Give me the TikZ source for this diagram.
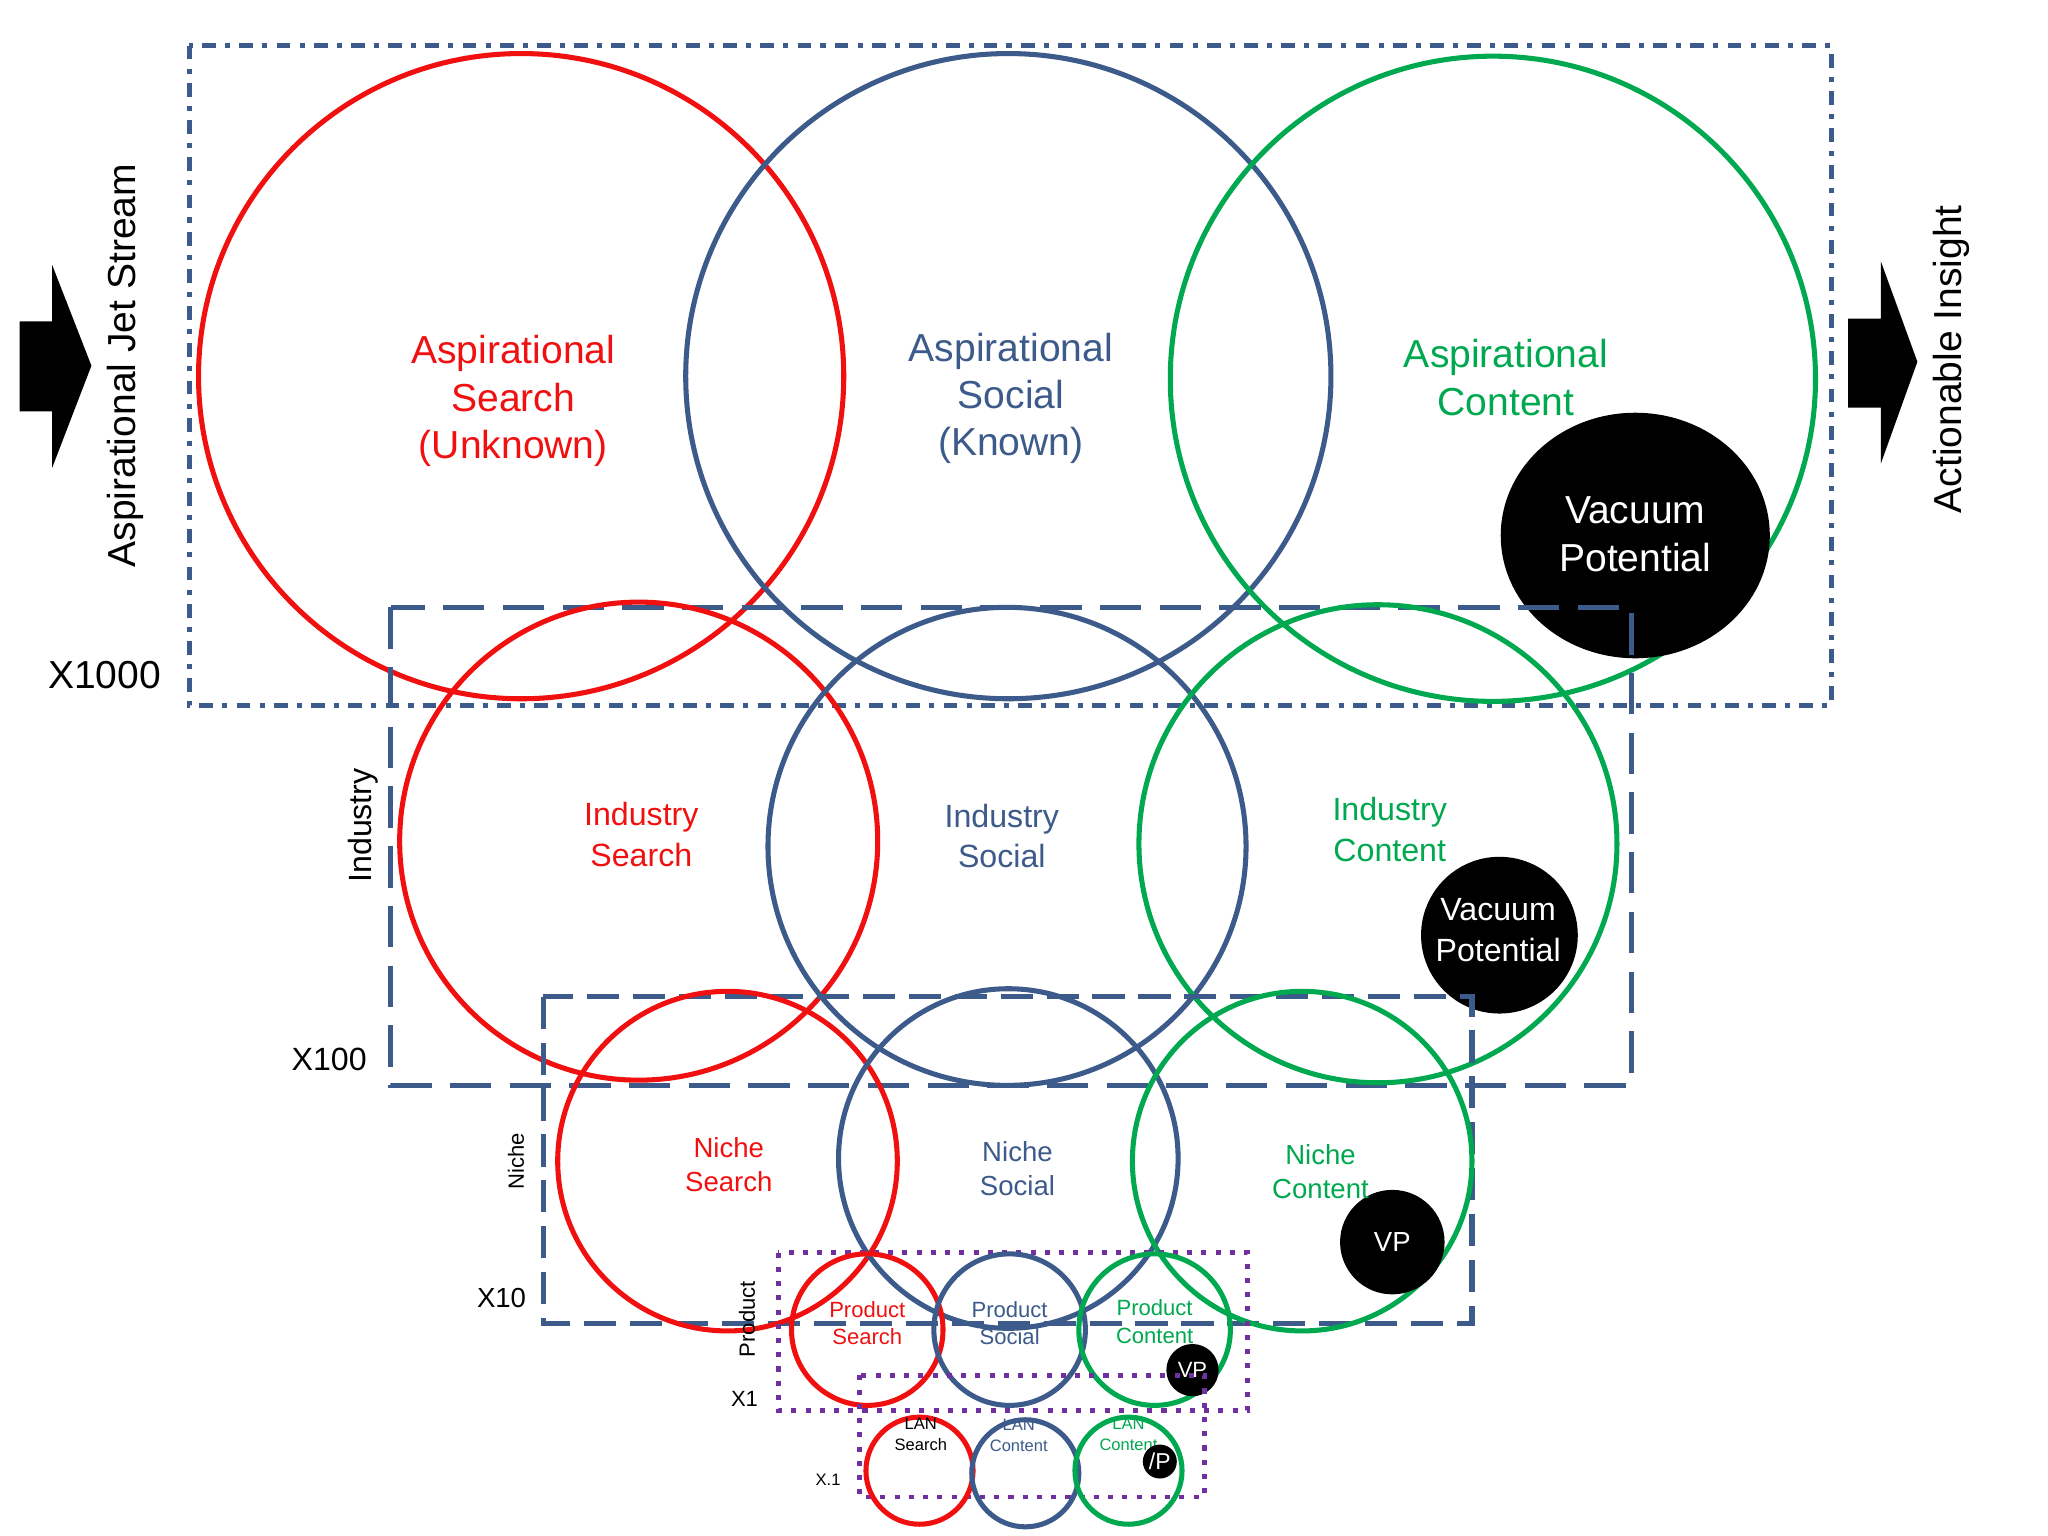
\documentclass[tikz,border=0pt]{standalone}
\usepackage{fontspec}
\setmainfont{Liberation Sans}
\definecolor{vred}{HTML}{F01010}
\definecolor{vblue}{HTML}{3C5A8A}
\definecolor{vgreen}{HTML}{00A84F}
\definecolor{vpurple}{HTML}{7030A0}
\tikzset{
  ring/.style={line width=1.1pt},
  frame/.style={vblue, line width=1.1pt},
  dotframe/.style={vpurple, line width=1.1pt, dotted},
  vac/.style={fill=black},
  asp/.style={font=\fontsize{8.5}{10.3}\selectfont, align=center},
  ind/.style={font=\fontsize{7}{8.8}\selectfont, align=center},
  nic/.style={font=\fontsize{6}{7.4}\selectfont, align=center},
  prd/.style={font=\fontsize{4.8}{6}\selectfont, align=center},
  lan/.style={font=\fontsize{3.6}{4.5}\selectfont, align=center},
}
\begin{document}
\begin{tikzpicture}[x=0.01cm,y=-0.01cm]
    \useasboundingbox[fill=white] (0,0) rectangle (1568,1176);
    % aspirational level
    \draw[frame, dash dot] (145,35) rectangle (1402,540);
    \draw[ring,vred] (399,288) circle (247);
    \draw[ring,vblue] (772,288) circle (247);
    \draw[ring,vgreen] (1143,290) circle (247);
    \fill[vac] (1252,410) ellipse (103 and 94);
    \node[asp,vred] (aspsearch) at (393,307) {Aspirational\\Search\\(Unknown)};
    \node[asp,vblue] (aspsocial) at (774,305) {Aspirational\\Social\\(Known)};
    \node[asp,vgreen] (aspcontent) at (1153,289) {Aspirational\\Content};
    \node[asp,white] (vp1) at (1252,409) {Vacuum\\Potential};
    % industry level
    \draw[frame, dashed, dash pattern=on 9pt off 4pt] (299,465) rectangle (1249,831);
    \draw[ring,vred] (489,644) circle (183);
    \draw[ring,vblue] (771,648) circle (183);
    \draw[ring,vgreen] (1055,646) circle (183);
    \fill[vac] (1148,716) circle (60);
    \node[ind,vred] (indsearch) at (491,639) {Industry\\Search};
    \node[ind,vblue] (indsocial) at (767,640) {Industry\\Social};
    \node[ind,vgreen] (indcontent) at (1064,635) {Industry\\Content};
    \node[ind,white] (vp2) at (1147,712) {Vacuum\\Potential};
    % niche level
    \draw[frame, dash pattern=on 7pt off 3pt] (416,763) rectangle (1127,1013);
    \draw[ring,vred] (557,889) circle (130);
    \draw[ring,vblue] (772,887) circle (130);
    \draw[ring,vgreen] (997,889) circle (130);
    \fill[vac] (1066,951) circle (40);
    \node[nic,vred] (nicsearch) at (558,892) {Niche\\Search};
    \node[nic,vblue] (nicsocial) at (779,895) {Niche\\Social};
    \node[nic,vgreen] (niccontent) at (1011,897) {Niche\\Content};
    \node[nic,white] (vp3) at (1066,951) {VP};
    % product level
    \draw[dotframe] (596,959) rectangle (955,1080);
    \draw[ring,vred] (664,1018) circle (58);
    \draw[ring,vblue] (773,1018) circle (58);
    \draw[ring,vgreen] (884,1018) circle (58);
    \fill[vac] (913,1049) circle (20);
    \node[prd,vred] (prdsearch) at (664,1013) {Product\\Search};
    \node[prd,vblue] (prdsocial) at (773,1013) {Product\\Social};
    \node[prd,vgreen] (prdcontent) at (884,1012) {Product\\Content};
    \node[prd,white] (vp4) at (913,1049) {VP};
    % LAN level
    \draw[dotframe, line width=1pt] (658,1053) rectangle (922,1146);
    \draw[ring,vred] (704,1126) circle (41);
    \draw[ring,vblue] (785,1128) circle (41);
    \draw[ring,vgreen] (864,1126) circle (41);
    \node[lan] (lansearch) at (705,1098) {LAN\\Search};
    \node[lan,vblue] (lansocial) at (780,1099) {LAN\\Content};
    \node[lan,vgreen] (lancontent) at (864,1098) {LAN\\Content};
    \fill[vac] (888,1119) circle (13);
    \node[lan,white,font=\fontsize{5}{6}\selectfont] (vp5) at (888,1119) {/P};
    % side labels
    \node[asp,rotate=90] (jet) at (96,280) {Aspirational Jet Stream};
    \node[asp] (x1000) at (80,517) {X1000};
    \node[ind,rotate=90] (indlab) at (278,632) {Industry};
    \node[ind] (x100) at (252,811) {X100};
    \node[nic,font=\fontsize{4.8}{6}\selectfont,rotate=90] (niclab) at (395,889) {Niche};
    \node[nic] (x10) at (384,994) {X10};
    \node[prd,rotate=90] (prdlab) at (572,1010) {Product};
    \node[prd] (x1) at (570,1071) {X1};
    \node[lan] (x01) at (634,1133) {X.1};
    \node[asp,rotate=90] (insight) at (1494,275) {Actionable Insight};
    % block arrows
    \fill (15,246) -- (40,246) -- (40,203) -- (70,280) -- (40,358) -- (40,315) -- (15,315) -- cycle;
    \fill (1415,244) -- (1440,244) -- (1440,200) -- (1468,277) -- (1440,355) -- (1440,312) -- (1415,312) -- cycle;
\end{tikzpicture}
\end{document}
